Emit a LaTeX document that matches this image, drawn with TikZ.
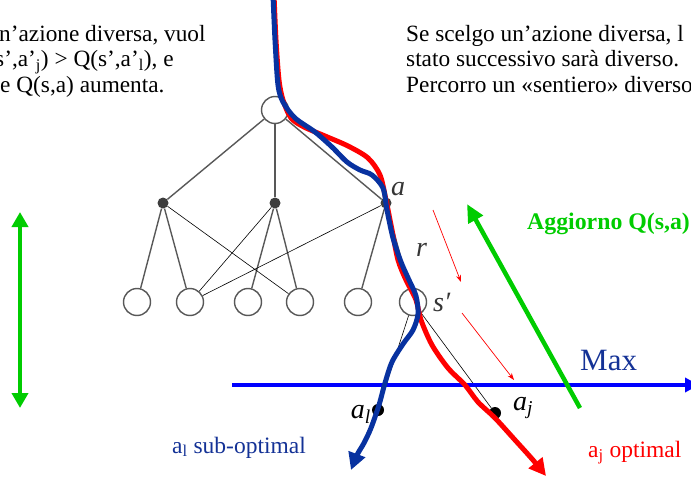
\documentclass[tikz,border=0pt]{standalone}
\usepackage{fontspec}
\setmainfont{Liberation Serif}
\usepackage{xcolor}
\definecolor{treegray}{RGB}{88,88,88}
\definecolor{pathred}{RGB}{255,0,0}
\definecolor{pathblue}{RGB}{8,50,160}
\definecolor{maxblue}{RGB}{0,0,255}
\definecolor{labblue}{RGB}{20,50,150}
\definecolor{upgreen}{RGB}{0,204,0}
\usetikzlibrary{arrows.meta,positioning}

\begin{document}
\begin{tikzpicture}[x=1pt,y=-1pt,
  stato/.style={circle,draw=treegray,fill=white,line width=1.4pt,
                minimum size=27pt,inner sep=0pt},
  azione/.style={circle,fill=treegray!70!black,minimum size=11pt,inner sep=0pt},
  arco/.style={draw=treegray,line width=1.4pt},
  incrocio/.style={draw=black,line width=0.6pt},
  testo/.style={font=\fontsize{23.3}{26}\selectfont,inner sep=0pt,anchor=base west},
  etich/.style={font=\fontsize{28}{30}\selectfont\itshape,inner sep=0pt,anchor=base west},
  punto/.style={circle,fill=black,minimum size=12pt,inner sep=0pt},
  percorso/.style={line width=5pt,line cap=round,line join=round,
                   -{Triangle[length=17pt,width=17pt]}},
  freccina/.style={draw=pathred,line width=0.7pt,-{Stealth[length=7pt,width=5pt]}},
  verde/.style={draw=upgreen,line width=4.5pt,{Triangle[length=15pt,width=16pt]}-{Triangle[length=15pt,width=16pt]}},
]
  \useasboundingbox (0,0) rectangle (691,479);
  \clip (0,0) rectangle (691,479);

  %% Testo in alto
  \node[testo](lt1) at (-1,41) {n’azione diversa, vuol};
  \node[testo](lt2) at (-5,66.5) {s’,a’\textsubscript{j}) > Q(s’,a’\textsubscript{l}), e};
  \node[testo](lt3) at (0,92) {e Q(s,a) aumenta.};
  \node[testo](rt1) at (406,41) {Se scelgo un’azione diversa, l};
  \node[testo](rt2) at (406,66.5) {stato successivo sarà diverso.};
  \node[testo](rt3) at (406,92) {Percorro un «sentiero» diverso};

  %% Albero
  \node[stato](root) at (275,110) {};
  \node[azione](act1) at (163,203) {};
  \node[azione](act2) at (275,203) {};
  \node[azione](act3) at (386,203) {};
  \foreach \i/\x in {1/137,2/190,3/248,4/300,5/358,6/413}
    \node[stato](leaf\i) at (\x,302) {};
  \foreach \a in {1,2,3}
    \draw[arco] (root) -- (act\a);
  \draw[arco] (act1) -- (leaf1); \draw[arco] (act1) -- (leaf2);
  \draw[arco] (act2) -- (leaf3); \draw[arco] (act2) -- (leaf4);
  \draw[arco] (act3) -- (leaf5); \draw[arco] (act3) -- (leaf6);
  \draw[incrocio] (act1) -- (leaf4);
  \draw[incrocio] (act2) -- (leaf2);
  \draw[incrocio] (act3) -- (leaf2);
  \node[etich,text=treegray!60!black](la) at (391,195) {a};
  \node[etich,text=treegray!60!black](lr) at (416,256) {r};
  \node[etich,text=treegray!60!black](ls) at (433,311) {s′};

  %% Azioni successive
  \node[punto](al) at (378,410) {};
  \node[punto](aj) at (495,413) {};
  \draw[incrocio] (leaf6) -- (al);
  \draw[incrocio] (leaf6) -- (aj);
  \node[etich,anchor=base east](lal) at (371,418) {a\textsubscript{l}};
  \node[etich](laj) at (513,410) {a\textsubscript{j}};

  %% Max
  \coordinate (mx0) at (232,385);
  \coordinate (mx1) at (699,385);
  \draw[maxblue,line width=3.5pt,-{Triangle[length=14pt,width=14pt]}] (mx0) -- (mx1);
  \node[inner sep=0pt,anchor=base west,text=labblue,font=\fontsize{31}{33}\selectfont](max) at (580,370) {Max};

  %% Frecce rosse
  \coordinate (r1a) at (433,210); \coordinate (r1b) at (461,282);
  \coordinate (r2a) at (462,313); \coordinate (r2b) at (514,380);
  \draw[freccina] (r1a) -- (r1b);
  \draw[freccina] (r2a) -- (r2b);

  %% Aggiornamento
  \coordinate (g0) at (580,408); \coordinate (g1) at (467,204);
  \draw[upgreen,line width=4.5pt,-{Triangle[length=18pt,width=16pt]}] (g0) -- (g1);
  \node[inner sep=0pt,anchor=base west,text=upgreen,font=\fontsize{23.8}{25}\selectfont\bfseries](agg) at (527,229) {Aggiorno Q(s,a)};
  \coordinate (gsu) at (20,212); \coordinate (ggiu) at (20,408);
  \draw[verde] (gsu) -- (ggiu);

  %% Percorsi
  \draw[percorso,pathred] plot[smooth,tension=0.5] coordinates {
    (274,-5) (276,40) (279,80) (283,100) (291,118) (304,127) (325,136)
    (348,146) (368,158) (380,175) (386,200) (392,230) (398,260) (406,280)
    (416,300) (421,320) (432,345) (448,368) (465,385) (478,402) (495,418)
    (515,440) (533,460) (546,476)};
  \draw[percorso,pathblue] plot[smooth,tension=0.5] coordinates {
    (273,-5) (275,40) (278,85) (283,102) (295,118) (315,132) (332,147)
    (347,162) (360,170) (372,175) (383,188) (387,210) (393,238) (401,262)
    (409,280) (416,296) (418,314) (413,330) (403,344) (392,362) (385,383)
    (379,405) (371,428) (364,443) (357,455) (351,470)};

  %% Etichette in basso
  \node[inner sep=0pt,anchor=base west,text=labblue,font=\fontsize{23.5}{25}\selectfont](subopt) at (172,453) {a\textsubscript{l} sub-optimal};
  \node[inner sep=0pt,anchor=base west,text=pathred,font=\fontsize{23.5}{25}\selectfont](opt) at (588,457) {a\textsubscript{j} optimal};
\end{tikzpicture}
\end{document}
